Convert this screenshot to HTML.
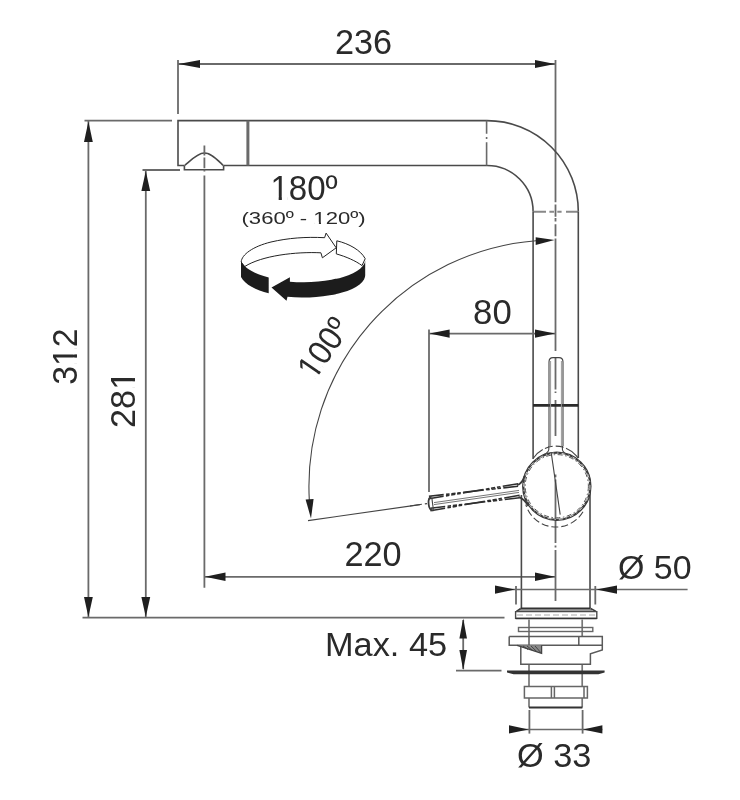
<!DOCTYPE html>
<html>
<head>
<meta charset="utf-8">
<title>Faucet dimensions</title>
<style>
html,body{margin:0;padding:0;background:#fff;}
body{width:740px;height:800px;overflow:hidden;}
svg{display:block;}
text{font-family:"Liberation Sans",Arial,Helvetica,sans-serif;fill:#2a2a2a;font-size:36.5px;}
.l{stroke:#6a6a6a;stroke-width:1.8;fill:none;}
.o{stroke:#4a4a4a;stroke-width:1.6;fill:none;}
.t{stroke:#444;stroke-width:1.1;fill:none;}
.k{stroke:#333;stroke-width:2.4;fill:none;}
.a{fill:#1f1f1f;stroke:none;}
</style>
</head>
<body>
<svg width="740" height="800" viewBox="0 0 740 800">
<defs>
<filter id="soft" x="0" y="0" width="740" height="800" filterUnits="userSpaceOnUse" color-interpolation-filters="sRGB"><feGaussianBlur stdDeviation="0.45"/></filter>
</defs>
<rect width="740" height="800" fill="#fff"/>
<g filter="url(#soft)">

<!-- ===== dimension 236 ===== -->
<g id="dim236">
<line class="l" x1="178" y1="60" x2="178" y2="114"/>
<line class="l" x1="178" y1="64" x2="555.5" y2="64"/>
<polygon class="a" points="178.5,64 200,60 200,68"/>
<polygon class="a" points="555,64 535,60 535,68"/>
<text transform="translate(335,53.5) scale(0.965,1)" style="font-size:35.5px">236</text>
</g>

<!-- ===== centre line ===== -->
<g id="centre">
<path class="l" d="M555.5,60 V202.2 M555.5,204.4 V216.8 M555.5,218 V221.4 M555.5,224.3 V236.2 M555.5,238.4 V351 M555.5,358 V389.5 M555.5,391.5 V393 M555.5,400 V436 M555.5,474.6 V477.2 M555.5,479.6 V543 M555.5,545.4 V547.6 M555.5,550 V601"/>
</g>

<!-- ===== dimension 312 / 281 ===== -->
<g id="dimv">
<line class="l" x1="84.5" y1="120.6" x2="172" y2="120.6"/>
<line class="l" x1="88.4" y1="121" x2="88.4" y2="617"/>
<polygon class="a" points="88.4,121.5 84,142 92.8,142"/>
<polygon class="a" points="88.4,617 84,597 92.8,597"/>
<line class="l" x1="142.5" y1="170" x2="180" y2="170"/>
<line class="l" x1="145.8" y1="171" x2="145.8" y2="617"/>
<polygon class="a" points="145.8,171 141.4,191 150.2,191"/>
<polygon class="a" points="145.8,617 141.4,597 150.2,597"/>
<line class="l" x1="82.5" y1="617.7" x2="504.5" y2="617.7"/>
<g transform="translate(76.8,384.8) rotate(-90) scale(0.959,1)"><text style="font-size:35.25px">312</text><rect x="21.84" y="-3.33" width="6.49" height="4.47" fill="#fff"/><rect x="31.72" y="-3.33" width="6.27" height="4.47" fill="#fff"/></g>
<g transform="translate(135,428) rotate(-90) scale(0.997,1)"><text style="font-size:34.4px">281</text><rect x="40.45" y="-3.26" width="6.33" height="4.39" fill="#fff"/><rect x="50.09" y="-3.26" width="6.11" height="4.39" fill="#fff"/></g>
</g>

<!-- ===== spout ===== -->
<g id="spout">
<path class="o" d="M184,165.5 H178 V120.6 H487 A91.3,91 0 0 1 578.3,211.5"/>
<path class="o" d="M224,165.5 H487 A46.2,46 0 0 1 533.1,211.5"/>
<line style="stroke:#6a6a6a;stroke-width:3" class="k" x1="247.9" y1="120.6" x2="247.9" y2="165.5"/>
<path class="o" d="M184.4,165.5 V169.8 H223.6 V165.5 M184.6,165.5 C190.5,160.5 197.5,153 204.4,153 C211.5,153 218,160.5 223.4,165.5"/>
<path style="stroke-width:1.6" class="l" d="M486.6,120.6 V133.8 M486.6,136.9 V139 M486.6,142.2 V165.5"/>
<path style="stroke-width:2;stroke:#888" class="l" d="M533.1,211.8 H546 M549.4,211.8 H554 M557.3,211.8 H561.6 M566,211.8 H578.3"/>
</g>

<!-- ===== aerator centre line + 220 ===== -->
<g id="dim220">
<path class="l" d="M204.4,145.5 V155.6 M204.4,157.4 V168.2 M204.4,169.4 V171.4 M204.4,175.6 V587.8"/>
<line class="l" x1="204.4" y1="576.8" x2="555.5" y2="576.8"/>
<polygon class="a" points="205,576.8 225.5,572.6 225.5,581"/>
<polygon class="a" points="555,576.8 535,572.6 535,581"/>
<text transform="translate(344.5,566) scale(0.985,1)" style="font-size:34.8px">220</text>
</g>

<!-- ===== column ===== -->
<g id="column">
<line class="o" x1="533.1" y1="211.5" x2="533.1" y2="459"/>
<line class="o" x1="578.3" y1="211.5" x2="578.3" y2="458"/>
<line style="stroke-width:2.8;stroke:#2a2a2a" class="k" x1="533.1" y1="405.4" x2="578.3" y2="405.4"/>
<path class="t" d="M549,446 V362 Q549,357.6 553,357.6 H559 Q563,357.6 563,362 V446"/>
<path style="stroke:#999;stroke-width:1" class="t" d="M550.6,446 V361 M561.4,446 V361"/>
<line class="o" x1="521.4" y1="495" x2="521.4" y2="608"/>
<line class="o" x1="590" y1="493" x2="590" y2="608"/>
</g>

<!-- ===== handle ===== -->
<g id="handle">
<circle style="stroke-width:2.3;stroke:#3a3a3a" class="k" cx="556.8" cy="486.2" r="33.6"/>
<circle style="stroke:#fff;stroke-width:0.7" class="t" cx="556.8" cy="486.2" r="33.2" stroke-dasharray="4 3 1.5 3"/>
<circle style="stroke:#555;stroke-width:1" class="t" cx="556.8" cy="486.2" r="31.6" stroke-dasharray="5 2.5 1.5 2.5"/>
<path class="t" d="M533.3,458.3 A26.8,26.8 0 0 1 578.2,458.3" stroke-dasharray="13 2.5 8 3 8 2.5 13 0" />
<path class="t" d="M583,511.8 A31.5,31.5 0 0 1 525.8,504.5" stroke-dasharray="7 3"/>
<path class="t" d="M548.8,446 V449.5 Q548.4,452.4 544.4,454.2 M562.4,446 V449.5 Q562.8,452.4 566.8,454.2"/>
<line class="t" x1="551.2" y1="452.6" x2="560.2" y2="514.6"/>
<!-- lever -->
<path style="stroke-width:1.6;stroke:#2e2e2e" class="k" d="M428.9,496.3 L518.1,486.2" stroke-dasharray="20.8 2.4 3.5 1.8 4.2 1.8 3.5 2.4" stroke-dashoffset="5.9"/>
<path style="stroke-width:1.6;stroke:#2e2e2e" class="k" d="M428.9,498.8 L518.1,483.7" stroke-dasharray="20.8 2.4 3.5 1.8 4.2 1.8 3.5 2.4" stroke-dashoffset="5.9"/>
<path style="stroke-width:1.6;stroke:#2e2e2e" class="k" d="M430.4,508.2 L519.6,497.8" stroke-dasharray="20.8 2.4 3.5 1.8 4.2 1.8 3.5 2.4" stroke-dashoffset="5.9"/>
<path style="stroke-width:1.6;stroke:#2e2e2e" class="k" d="M430.4,510.7 L519.6,495.3" stroke-dasharray="20.8 2.4 3.5 1.8 4.2 1.8 3.5 2.4" stroke-dashoffset="5.9"/>
<path style="stroke:#666;stroke-width:0.9" class="t" d="M434,502.6 L519,490.4 M434,504.6 L519,492.4"/>
<path style="stroke-width:1.8;stroke:#3a3a3a" class="k" d="M431.5,496.6 Q428,497.4 428.6,504 Q429.2,510.8 433.5,510.4"/>
<path class="t" d="M431.8,497.6 L433.4,509.8"/>
<path style="stroke-width:1.8;stroke:#3a3a3a" class="k" d="M517,485.2 Q522.5,483.3 524.5,476 M518.5,496.8 Q524,498.6 528.5,506"/>
</g>

<!-- ===== 100 degree arc ===== -->
<g id="arc100">
<path class="t" d="M536,240.7 A246.6,246.6 0 0 0 309.3,500"/>
<polygon class="a" points="554.5,240 535.7,237.2 535.7,245"/>
<polygon class="a" points="311,518.4 305.6,499.6 313.6,499"/>
<path class="t" d="M308,520.6 L420,504.6"/>
<path class="t" d="M410,506 L427,503.6" stroke-dasharray="12 3"/>
<g transform="translate(314.8,381) rotate(-55.5) scale(0.93,1)"><text style="font-size:34px">100º</text><rect x="2.16" y="-3.22" width="6.26" height="4.35" fill="#fff"/><rect x="11.69" y="-3.22" width="6.04" height="4.35" fill="#fff"/></g>
</g>

<!-- ===== dimension 80 ===== -->
<g id="dim80">
<line class="l" x1="429" y1="329.6" x2="429" y2="492"/>
<line class="l" x1="429" y1="333.6" x2="555.5" y2="333.6"/>
<polygon class="a" points="429.5,333.6 449.6,329.4 449.6,337.8"/>
<polygon class="a" points="555,333.6 535,329.4 535,337.8"/>
<text transform="translate(473.1,323.6) scale(0.988,1)" style="font-size:35.1px">80</text>
</g>

<!-- ===== rotation text + icon ===== -->
<g id="rot">
<g transform="translate(270.5,200) scale(0.952,1)"><text style="font-size:34.7px">180º</text><rect x="2.20" y="-3.28" width="6.39" height="4.42" fill="#fff"/><rect x="11.93" y="-3.28" width="6.17" height="4.42" fill="#fff"/></g>
<g transform="translate(241.5,223.6) scale(1.295,1)"><text style="font-size:17.06px">(360º - 120º)</text><rect x="56.62" y="-1.82" width="3.14" height="2.78" fill="#fff"/><rect x="61.40" y="-1.82" width="3.03" height="2.78" fill="#fff"/></g>
<g id="roticon">
<path d="M241.2,262 C241.6,254.6 253,246.4 271,242 C288,238 306,236.7 324.6,237.7 L326.1,233.1 L336.2,247.8 L322.4,257.8 L320.9,252.8 C296,251.6 262,255.5 244.6,266.6 Z" fill="#fff" stroke="#222" stroke-width="1"/>
<path d="M336.8,240.8 C349,243.6 361,250.4 365.2,258.7 L362,265.6 C356,261 346,256.6 336.3,253.9 Z" fill="#fff" stroke="#222" stroke-width="1"/>
<path d="M241,261.6 C245,268.4 255,274.2 268.7,277.4 L268.7,293.2 C256,290.4 245,284.4 241,277 Z" fill="#1c1c1c"/>
<path d="M271.5,287.4 L289.9,277.3 L289.9,281.7 A62.12,22.42 0 0 0 365.2,258.7 L365.2,274.3 A62.12,22.42 0 0 1 287.5,296.8 L286.5,300.8 Z" fill="#1c1c1c"/>
</g>
</g>

<!-- ===== Ø 50 ===== -->
<g id="dim50">
<line class="l" x1="516" y1="586" x2="516" y2="604.5"/>
<line class="l" x1="595.3" y1="586" x2="595.3" y2="604.5"/>
<line style="stroke-width:1.5" class="l" x1="495" y1="589.6" x2="687.6" y2="589.6"/>
<polygon class="a" points="515,589.6 495,585.4 495,593.8"/>
<polygon class="a" points="596.3,589.6 617,585.4 617,593.8"/>
<text transform="translate(618,579.4) scale(1.008,1)" style="font-size:33.7px">Ø 50</text>
</g>

<!-- ===== Max. 45 ===== -->
<g id="max45">
<line class="l" x1="456" y1="670.7" x2="501.5" y2="670.7"/>
<line class="l" x1="463.2" y1="620" x2="463.2" y2="669"/>
<polygon class="a" points="463.2,618.5 459.4,638.5 467,638.5"/>
<polygon class="a" points="463.2,670 459.4,650 467,650"/>
<text transform="translate(325,655.6) scale(1.04,1)" style="font-size:33px">Max. 45</text>
</g>

<!-- ===== base / fixing ===== -->
<g id="base">
<path style="stroke-width:1.9;stroke:#333" class="k" d="M520.8,608.5 H590.6"/>
<path style="stroke:#777;stroke-width:1.2" class="t" d="M519,610.2 H592.4"/>
<path style="stroke-width:1.6;stroke:#3a3a3a" class="k" d="M520.8,608.5 L516.4,611.4 M590.6,608.5 L596,611.4"/>
<path style="stroke-width:1.4;stroke:#4a4a4a" class="k" d="M515.6,611.6 H596.8 V618.3 H515.6 Z"/>
<path style="stroke-width:1.3;stroke:#333" class="k" d="M515.6,618.6 H596.8"/>
<path style="stroke:#aaa;stroke-width:1" class="t" d="M517,615 H596" stroke-dasharray="6 3"/>
<path style="stroke:#777;stroke-width:1.7" class="l" d="M529,619.5 V636.4 M582.2,619.5 V636.4 M529,664.2 V686.4 M582.2,664.2 V686.4 M529,698 V707.5 M582.2,698 V707.5"/>
<rect style="stroke:#666;stroke-width:1.4" class="l" x="518.5" y="627.5" width="74.3" height="4" fill="#fff"/>
<path style="stroke:#5a5a5a;stroke-width:1.5" class="l" d="M509.2,636.4 H602.3 V650 L590.4,653.7 V664.2 H520.8 V645.3 M509.2,636.4 V645.3 H602.3 M529,636.4 V645.3 M578.8,636.4 V645.3"/>
<path d="M517.1,645.3 L541.6,645.3 L541.6,653.4 Z" fill="#8a8a8a"/>
<path style="stroke:#444;stroke-width:1.3" class="l" d="M541.6,645.3 V653.4 L517.1,645.3"/>
<path style="stroke:#444;stroke-width:1" class="t" d="M523,646 L528,649.5 M527,646 L533,650.8 M531,646 L537,651.8 M535,646 L541,652.8"/>
<path d="M507,670.4 H604.6 V672.6 L598.5,674.3 H513.5 L507,672.6 Z" fill="#333"/>
<path style="stroke:#666;stroke-width:1.5" class="l" d="M524.4,686.4 H587.4 V698 H524.4 Z M551.4,686.4 V698 M554.4,686.4 V698 M584,686.4 V698"/>
<path style="stroke-width:2;stroke:#333" class="k" d="M529,707.6 H582.4"/>
</g>

<!-- ===== Ø 33 ===== -->
<g id="dim33">
<line class="l" x1="529.4" y1="710" x2="529.4" y2="733.6"/>
<line class="l" x1="582.6" y1="710" x2="582.6" y2="733.6"/>
<line style="stroke-width:1.5" class="l" x1="509" y1="729.4" x2="602.4" y2="729.4"/>
<polygon class="a" points="528.6,729.4 509,725.2 509,733.6"/>
<polygon class="a" points="583,729.4 602.4,725.2 602.4,733.6"/>
<text transform="translate(517,767.4) scale(1.024,1)" style="font-size:33.5px">Ø 33</text>
</g>
</g>
</svg>
</body>
</html>
